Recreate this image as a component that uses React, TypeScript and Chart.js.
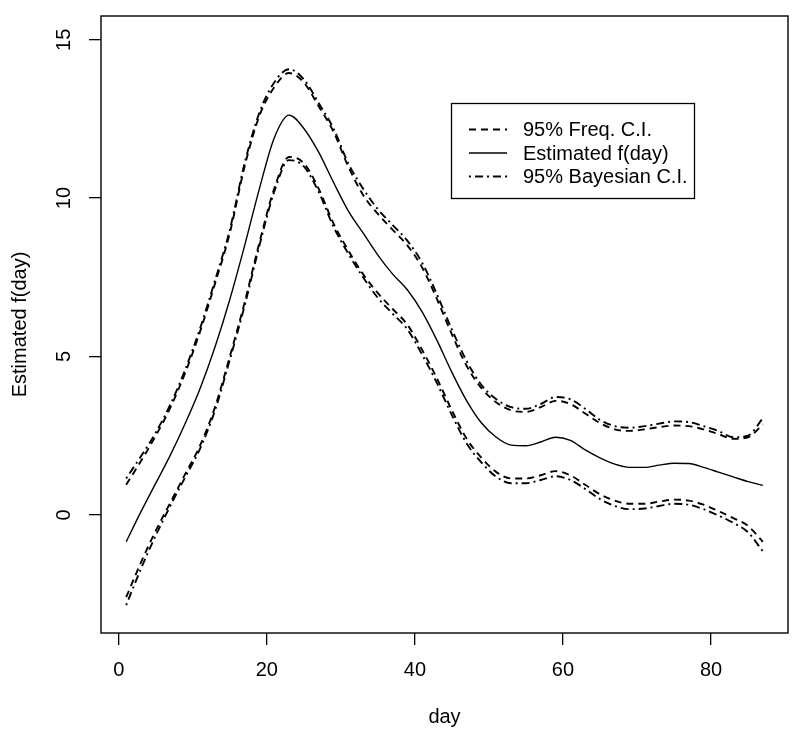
import React, { useEffect, useRef } from "react";
import { Chart, registerables } from "chart.js";

Chart.register(...registerables);

const FONT = "'Liberation Sans', Arial, Helvetica, sans-serif";

const days = [1, 3, 5, 7, 9, 11, 13, 15, 17, 19, 21, 23, 25, 27, 29, 31, 33, 35, 37, 39, 41, 43, 45, 47, 49, 51, 53, 55, 57, 59, 61, 63, 65, 67, 69, 71, 73, 75, 77, 79, 81, 83, 85, 87];

const estimate = [-0.85, 0.1, 1.0, 1.9, 2.9, 4.0, 5.3, 6.8, 8.5, 10.3, 11.9, 12.62, 12.2, 11.45, 10.5, 9.6, 8.9, 8.2, 7.6, 7.1, 6.4, 5.5, 4.5, 3.6, 2.9, 2.45, 2.2, 2.18, 2.3, 2.45, 2.35, 2.05, 1.8, 1.6, 1.5, 1.5, 1.57, 1.63, 1.62, 1.5, 1.35, 1.2, 1.05, 0.93];

const freqUpper = [0.95, 1.7, 2.5, 3.4, 4.5, 5.8, 7.3, 8.9, 11.0, 12.6, 13.5, 13.95, 13.65, 12.9, 12.1, 11.0, 10.1, 9.5, 9.0, 8.5, 7.8, 6.8, 5.7, 4.7, 4.0, 3.55, 3.3, 3.25, 3.4, 3.6, 3.5, 3.2, 2.9, 2.7, 2.65, 2.7, 2.77, 2.82, 2.8, 2.7, 2.55, 2.4, 2.45, 2.85];

const freqLower = [-2.6, -1.5, -0.5, 0.4, 1.3, 2.2, 3.4, 5.0, 6.7, 8.6, 10.3, 11.3, 11.1, 10.3, 9.2, 8.35, 7.6, 7.0, 6.5, 6.0, 5.2, 4.3, 3.3, 2.4, 1.8, 1.35, 1.15, 1.15, 1.25, 1.38, 1.25, 0.95, 0.65, 0.45, 0.35, 0.35, 0.42, 0.48, 0.45, 0.32, 0.12, -0.1, -0.35, -0.85];

const bayesUpper = [1.15, 1.85, 2.6, 3.5, 4.6, 5.9, 7.4, 9.0, 11.1, 12.7, 13.65, 14.07, 13.75, 13.0, 12.2, 11.1, 10.3, 9.65, 9.15, 8.65, 7.95, 6.95, 5.85, 4.85, 4.1, 3.65, 3.4, 3.35, 3.5, 3.72, 3.65, 3.35, 3.0, 2.8, 2.75, 2.8, 2.88, 2.95, 2.93, 2.8, 2.65, 2.45, 2.5, 3.05];

const bayesLower = [-2.85, -1.7, -0.65, 0.3, 1.2, 2.1, 3.3, 4.9, 6.6, 8.5, 10.2, 11.2, 11.0, 10.2, 9.1, 8.25, 7.5, 6.85, 6.35, 5.85, 5.05, 4.15, 3.15, 2.25, 1.65, 1.2, 1.0, 1.0, 1.1, 1.22, 1.1, 0.82, 0.5, 0.28, 0.18, 0.2, 0.28, 0.35, 0.32, 0.18, -0.02, -0.25, -0.55, -1.15];

const xTicks = [0, 20, 40, 60, 80];
const yTicks = [0, 5, 10, 15];
const legendLabels = ["95% Freq. C.I.", "Estimated f(day)", "95% Bayesian C.I."];

const FREQ_DASH = [7, 5];
const BAYES_DASH = [2, 4, 8, 4];

const toPoints = (vals: number[]) => days.map((d, i) => ({ x: d, y: vals[i] }));

const boxAndLegend = {
  id: "boxAndLegend",
  afterDraw(chart: any) {
    const { ctx, chartArea } = chart;
    ctx.save();
    ctx.strokeStyle = "#000";
    ctx.lineWidth = 1.4;
    ctx.setLineDash([]);
    ctx.strokeRect(chartArea.left, chartArea.top, chartArea.right - chartArea.left, chartArea.bottom - chartArea.top);

    // legend
    const bx = 451.5, by = 103.5, bw = 243, bh = 95;
    ctx.lineWidth = 1.3;
    ctx.strokeRect(bx, by, bw, bh);
    const rows = [129.5, 153, 176.5];
    const dashes = [FREQ_DASH, [], BAYES_DASH];
    ctx.font = `20px ${FONT}`;
    ctx.fillStyle = "#000";
    ctx.textBaseline = "middle";
    ctx.textAlign = "left";
    rows.forEach((ry, i) => {
      ctx.beginPath();
      ctx.lineWidth = i === 1 ? 1.4 : 1.9;
      ctx.setLineDash(dashes[i]);
      ctx.moveTo(469, ry);
      ctx.lineTo(507, ry);
      ctx.stroke();
      ctx.setLineDash([]);
      ctx.fillText(legendLabels[i], 523, ry + 1);
    });
    ctx.restore();
  },
};

export default function App() {
  const ref = useRef<HTMLCanvasElement | null>(null);

  useEffect(() => {
    if (!ref.current) return;
    const common = {
      borderColor: "#000",
      borderWidth: 1.9,
      pointRadius: 0,
      fill: false,
      cubicInterpolationMode: "monotone" as const,
    };
    const chart = new Chart(ref.current, {
      type: "line",
      data: {
        datasets: [
          { ...common, label: "Estimated f(day)", data: toPoints(estimate), borderWidth: 1.4 },
          { ...common, label: "95% Freq. C.I. upper", data: toPoints(freqUpper), borderDash: FREQ_DASH },
          { ...common, label: "95% Freq. C.I. lower", data: toPoints(freqLower), borderDash: FREQ_DASH },
          { ...common, label: "95% Bayesian C.I. upper", data: toPoints(bayesUpper), borderDash: BAYES_DASH },
          { ...common, label: "95% Bayesian C.I. lower", data: toPoints(bayesLower), borderDash: BAYES_DASH },
        ],
      },
      options: {
        animation: false,
        responsive: false,
        layout: { padding: { top: 16, right: 12, left: 0, bottom: 0 } },
        plugins: { legend: { display: false }, tooltip: { enabled: false } },
        scales: {
          x: {
            type: "linear",
            min: -2.4,
            max: 90.4,
            afterBuildTicks: (s: any) => { s.ticks = xTicks.map((v) => ({ value: v })); },
            afterFit: (s: any) => { s.height = 106; s.paddingLeft = 0; s.paddingRight = 0; },
            grid: { display: true, drawOnChartArea: false, drawTicks: true, tickLength: 12, color: "#000", lineWidth: 1.3 },
            border: { display: false },
            ticks: { font: { family: FONT, size: 20 }, color: "#000", padding: 13, maxRotation: 0, autoSkip: false },
            title: { display: true, text: "day", font: { family: FONT, size: 20 }, color: "#000", padding: { top: 0, bottom: 10 } },
          },
          y: {
            type: "linear",
            min: -3.73,
            max: 15.75,
            afterBuildTicks: (s: any) => { s.ticks = yTicks.map((v) => ({ value: v })); },
            afterFit: (s: any) => { s.width = 101; s.paddingTop = 0; s.paddingBottom = 0; },
            grid: { display: true, drawOnChartArea: false, drawTicks: true, tickLength: 12, color: "#000", lineWidth: 1.3 },
            border: { display: false },
            ticks: { font: { family: FONT, size: 20 }, color: "#000", padding: 13, minRotation: 90, maxRotation: 90, crossAlign: "center", autoSkip: false },
            title: { display: true, text: "Estimated f(day)", font: { family: FONT, size: 20 }, color: "#000", padding: { top: 8, bottom: 0 } },
          },
        },
      },
      plugins: [boxAndLegend],
    });
    return () => chart.destroy();
  }, []);

  return (
    <div style={{ position: "absolute", left: 0, top: 0, width: 800, height: 739, background: "#fff" }}>
      <canvas ref={ref} width={800} height={739} style={{ display: "block" }} />
    </div>
  );
}
